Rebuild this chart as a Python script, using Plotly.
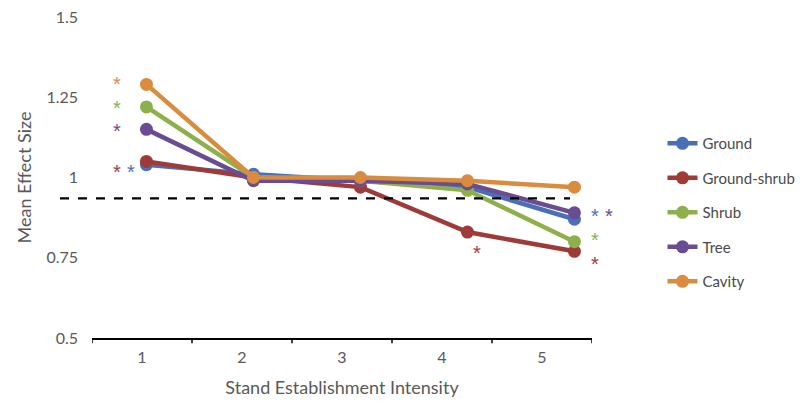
import plotly.graph_objects as go

categories = [1, 2, 3, 4, 5]
series_names = ["Ground", "Ground-shrub", "Shrub", "Tree", "Cavity"]
ground = [1.04, 1.01, 0.99, 0.97, 0.87]
ground_shrub = [1.05, 1.00, 0.97, 0.83, 0.77]
shrub = [1.22, 1.00, 0.99, 0.96, 0.80]
tree = [1.15, 0.99, 0.99, 0.98, 0.89]
cavity = [1.29, 1.00, 1.00, 0.99, 0.97]
series_values = [ground, ground_shrub, shrub, tree, cavity]
colors = ["#4A6FB6", "#9E3B38", "#8DB04C", "#6A4C93", "#D98B3E"]

y_ticks = [0.5, 0.75, 1.0, 1.25, 1.5]
y_tick_labels = ["0.5", "0.75", "1", "1.25", "1.5"]
reference_value = 0.935

# significance markers: (series index, x position, y position)
star_series = [4, 2, 3, 1, 0, 1, 0, 3, 2, 1]
star_x = [0.72, 0.72, 0.72, 0.72, 0.855, 4.085, 5.19, 5.32, 5.19, 5.19]
star_y = [1.30, 1.225, 1.155, 1.025, 1.025, 0.775, 0.89, 0.89, 0.815, 0.74]

X2_RANGE = [0.491, 5.164]

fig = go.Figure()
for name, vals, col in zip(series_names, series_values, colors):
    fig.add_trace(go.Scatter(
        x=categories, y=vals, name=name, mode="lines+markers",
        line=dict(color=col, width=4.5), marker=dict(color=col, size=13),
        xaxis="x2", legendgroup=name,
    ))

fig.add_shape(type="line", xref="paper", yref="y",
              x0=-0.064, x1=0.956, y0=reference_value, y1=reference_value,
              line=dict(color="black", width=2.2, dash="dash"))

for si, sx, sy in zip(star_series, star_x, star_y):
    px = (sx - X2_RANGE[0]) / (X2_RANGE[1] - X2_RANGE[0])
    fig.add_annotation(x=px, y=sy, xref="paper", yref="y", text="*", showarrow=False,
                       xanchor="center", yanchor="middle",
                       font=dict(color=colors[si], size=20, family="Liberation Sans"),
                       yshift=-3)

font_family = "Lato, Open Sans, sans-serif"
fig.update_layout(
    width=798, height=395,
    margin=dict(l=84, r=214, t=9, b=65, autoexpand=False),
    paper_bgcolor="white", plot_bgcolor="white",
    font=dict(family=font_family, color="#595959", size=16),
    showlegend=True,
    legend=dict(x=1.141, y=0.657, xanchor="left", yanchor="top",
                font=dict(size=15, color="#4A4A4A"), tracegroupgap=12,
                bgcolor="rgba(0,0,0,0)", borderwidth=0),
    xaxis=dict(range=[0.5, 5.5], tickmode="array", tickvals=categories,
               ticktext=[str(c) for c in categories], automargin=False,
               showline=True, linecolor="black", linewidth=1.5,
               showgrid=False, zeroline=False, ticks="", ticklabelstandoff=4,
               title=dict(text="Stand Establishment Intensity", standoff=16,
                          font=dict(size=18, color="#595959"))),
    xaxis2=dict(range=X2_RANGE, overlaying="x", visible=False),
    yaxis=dict(range=[0.5, 1.5], tickmode="array", tickvals=y_ticks,
               ticktext=y_tick_labels, showgrid=False, zeroline=False,
               showline=False, ticks="", ticklabelstandoff=13, automargin=False,
               ticklabeloverflow="allow",
               title=dict(text="Mean Effect Size", standoff=10,
                          font=dict(size=18, color="#595959"))),
)

# category boundary tick marks on the x axis
for b in [0.5, 1.5, 2.5, 3.5, 4.5, 5.5]:
    fig.add_shape(type="line", xref="x", yref="paper", x0=b, x1=b, y0=0, y1=-0.016,
                  line=dict(color="black", width=1.5))

fig.write_html("out.html")
